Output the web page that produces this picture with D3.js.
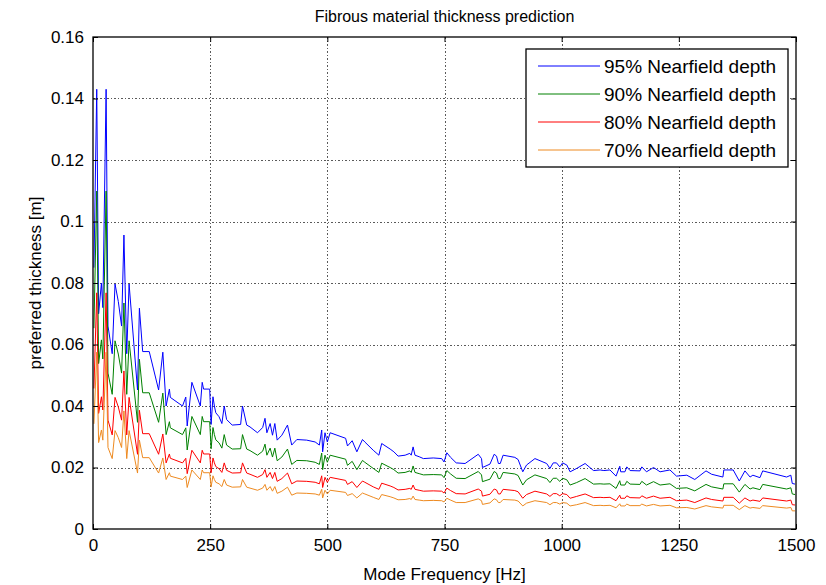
<!DOCTYPE html>
<html>
<head>
<meta charset="utf-8">
<script src="https://cdn.jsdelivr.net/npm/d3@7"></script>
<style>
  body { margin: 0; background: #fff; }
  svg text { font-family: "Liberation Sans", Arial, sans-serif; fill: #000; }
</style>
</head>
<body>
<svg id="chart" width="826" height="585"></svg>
<script>
// Mode frequencies [Hz]
const freq = [2, 8, 12, 18, 21, 28, 32, 41, 47, 54, 61, 66, 72, 77, 95, 99, 106, 120, 140, 149,
  156, 163, 165, 191, 198, 201, 211, 229, 233, 236, 249, 252, 256, 259, 262, 269, 275, 280, 285, 297,
  315, 319, 328, 335, 351, 362, 367, 371, 378, 383, 388, 393, 403, 415, 424, 435, 456, 474, 483, 488,
  490, 495, 500, 506, 539, 543, 553, 563, 575, 580, 598, 610, 616, 634, 642, 651, 666, 676, 679, 683,
  687, 696, 705, 726, 744, 749, 755, 763, 775, 794, 822, 829, 831, 847, 856, 861, 865, 869, 875, 900,
  907, 917, 925, 943, 968, 975, 982, 989, 996, 1002, 1011, 1018, 1032, 1050, 1068, 1082, 1090, 1103, 1116, 1124,
  1126, 1135, 1139, 1146, 1167, 1171, 1181, 1196, 1210, 1231, 1245, 1267, 1284, 1308, 1320, 1344, 1346, 1366, 1379, 1391,
  1402, 1408, 1423, 1429, 1480, 1489, 1492, 1498];

// Preferred thickness [m] for each nearfield depth
const depth95 = [0.0850, 0.1430, 0.0700, 0.0800, 0.0720, 0.1430, 0.0660, 0.0570, 0.0797, 0.0740, 0.0660, 0.0956, 0.0570, 0.0797, 0.0452, 0.0718, 0.0577, 0.0577, 0.0452, 0.0575,
  0.0400, 0.0455, 0.0428, 0.0400, 0.0429, 0.0335, 0.0477, 0.0400, 0.0477, 0.0455, 0.0455, 0.0340, 0.0430, 0.0400, 0.0378, 0.0365, 0.0343, 0.0400, 0.0356, 0.0338,
  0.0340, 0.0400, 0.0338, 0.0332, 0.0313, 0.0330, 0.0360, 0.0313, 0.0343, 0.0305, 0.0343, 0.0289, 0.0305, 0.0338, 0.0273, 0.0291, 0.0289, 0.0283, 0.0273, 0.0322,
  0.0251, 0.0313, 0.0283, 0.0313, 0.0295, 0.0270, 0.0287, 0.0251, 0.0291, 0.0283, 0.0256, 0.0240, 0.0278, 0.0260, 0.0251, 0.0237, 0.0240, 0.0246, 0.0240, 0.0267,
  0.0240, 0.0235, 0.0229, 0.0231, 0.0229, 0.0218, 0.0248, 0.0233, 0.0215, 0.0213, 0.0243, 0.0229, 0.0200, 0.0211, 0.0243, 0.0237, 0.0213, 0.0213, 0.0240, 0.0233,
  0.0226, 0.0186, 0.0208, 0.0229, 0.0213, 0.0197, 0.0215, 0.0215, 0.0202, 0.0215, 0.0208, 0.0186, 0.0197, 0.0213, 0.0190, 0.0192, 0.0190, 0.0192, 0.0172, 0.0204,
  0.0186, 0.0186, 0.0202, 0.0190, 0.0189, 0.0202, 0.0186, 0.0200, 0.0186, 0.0192, 0.0172, 0.0175, 0.0161, 0.0189, 0.0178, 0.0169, 0.0192, 0.0192, 0.0156, 0.0189,
  0.0169, 0.0175, 0.0167, 0.0189, 0.0169, 0.0175, 0.0148, 0.0146];

const depth90 = [0.0653, 0.1099, 0.0538, 0.0615, 0.0553, 0.1099, 0.0507, 0.0438, 0.0612, 0.0569, 0.0507, 0.0735, 0.0438, 0.0612, 0.0347, 0.0552, 0.0443, 0.0443, 0.0347, 0.0442,
  0.0307, 0.0349, 0.0329, 0.0307, 0.0329, 0.0257, 0.0366, 0.0307, 0.0366, 0.0349, 0.0349, 0.0261, 0.0330, 0.0307, 0.0290, 0.0280, 0.0263, 0.0307, 0.0273, 0.0260,
  0.0261, 0.0307, 0.0260, 0.0255, 0.0240, 0.0253, 0.0276, 0.0240, 0.0263, 0.0234, 0.0263, 0.0222, 0.0234, 0.0260, 0.0210, 0.0223, 0.0222, 0.0217, 0.0210, 0.0247,
  0.0193, 0.0240, 0.0217, 0.0240, 0.0227, 0.0207, 0.0220, 0.0193, 0.0223, 0.0217, 0.0197, 0.0184, 0.0214, 0.0200, 0.0193, 0.0182, 0.0184, 0.0189, 0.0184, 0.0205,
  0.0184, 0.0180, 0.0176, 0.0177, 0.0176, 0.0167, 0.0190, 0.0179, 0.0165, 0.0164, 0.0187, 0.0176, 0.0154, 0.0162, 0.0187, 0.0182, 0.0164, 0.0164, 0.0184, 0.0179,
  0.0174, 0.0143, 0.0160, 0.0176, 0.0164, 0.0151, 0.0165, 0.0165, 0.0155, 0.0165, 0.0160, 0.0143, 0.0151, 0.0164, 0.0146, 0.0147, 0.0146, 0.0147, 0.0132, 0.0157,
  0.0143, 0.0143, 0.0155, 0.0146, 0.0145, 0.0155, 0.0143, 0.0154, 0.0143, 0.0147, 0.0132, 0.0134, 0.0124, 0.0145, 0.0137, 0.0130, 0.0147, 0.0147, 0.0120, 0.0145,
  0.0130, 0.0134, 0.0128, 0.0145, 0.0130, 0.0134, 0.0114, 0.0112];

const depth80 = [0.0457, 0.0768, 0.0376, 0.0430, 0.0387, 0.0768, 0.0354, 0.0306, 0.0428, 0.0397, 0.0354, 0.0514, 0.0306, 0.0428, 0.0243, 0.0386, 0.0310, 0.0310, 0.0243, 0.0309,
  0.0215, 0.0244, 0.0230, 0.0215, 0.0230, 0.0180, 0.0256, 0.0215, 0.0256, 0.0244, 0.0244, 0.0183, 0.0231, 0.0215, 0.0203, 0.0196, 0.0184, 0.0215, 0.0191, 0.0182,
  0.0183, 0.0215, 0.0182, 0.0178, 0.0168, 0.0177, 0.0193, 0.0168, 0.0184, 0.0164, 0.0184, 0.0155, 0.0164, 0.0182, 0.0147, 0.0156, 0.0155, 0.0152, 0.0147, 0.0173,
  0.0135, 0.0168, 0.0152, 0.0168, 0.0158, 0.0145, 0.0154, 0.0135, 0.0156, 0.0152, 0.0137, 0.0129, 0.0149, 0.0140, 0.0135, 0.0127, 0.0129, 0.0132, 0.0129, 0.0143,
  0.0129, 0.0126, 0.0123, 0.0124, 0.0123, 0.0117, 0.0133, 0.0125, 0.0115, 0.0114, 0.0130, 0.0123, 0.0107, 0.0113, 0.0130, 0.0127, 0.0114, 0.0114, 0.0129, 0.0125,
  0.0121, 0.0100, 0.0112, 0.0123, 0.0114, 0.0106, 0.0115, 0.0115, 0.0108, 0.0115, 0.0112, 0.0100, 0.0106, 0.0114, 0.0102, 0.0103, 0.0102, 0.0103, 0.0092, 0.0110,
  0.0100, 0.0100, 0.0108, 0.0102, 0.0101, 0.0108, 0.0100, 0.0107, 0.0100, 0.0103, 0.0092, 0.0094, 0.0086, 0.0101, 0.0096, 0.0091, 0.0103, 0.0103, 0.0084, 0.0101,
  0.0091, 0.0094, 0.0090, 0.0101, 0.0091, 0.0094, 0.0079, 0.0078];

const depth70 = [0.0342, 0.0575, 0.0281, 0.0322, 0.0289, 0.0575, 0.0265, 0.0229, 0.0320, 0.0297, 0.0265, 0.0384, 0.0229, 0.0320, 0.0182, 0.0289, 0.0232, 0.0232, 0.0182, 0.0231,
  0.0161, 0.0183, 0.0172, 0.0161, 0.0172, 0.0135, 0.0192, 0.0161, 0.0192, 0.0183, 0.0183, 0.0137, 0.0173, 0.0161, 0.0152, 0.0147, 0.0138, 0.0161, 0.0143, 0.0136,
  0.0137, 0.0161, 0.0136, 0.0133, 0.0126, 0.0133, 0.0145, 0.0126, 0.0138, 0.0123, 0.0138, 0.0116, 0.0123, 0.0136, 0.0110, 0.0117, 0.0116, 0.0114, 0.0110, 0.0129,
  0.0101, 0.0126, 0.0114, 0.0126, 0.0119, 0.0109, 0.0115, 0.0101, 0.0117, 0.0114, 0.0103, 0.0096, 0.0112, 0.0105, 0.0101, 0.0095, 0.0096, 0.0099, 0.0096, 0.0107,
  0.0096, 0.0094, 0.0092, 0.0093, 0.0092, 0.0088, 0.0100, 0.0094, 0.0086, 0.0086, 0.0098, 0.0092, 0.0080, 0.0085, 0.0098, 0.0095, 0.0086, 0.0086, 0.0096, 0.0094,
  0.0091, 0.0075, 0.0084, 0.0092, 0.0086, 0.0079, 0.0086, 0.0086, 0.0081, 0.0086, 0.0084, 0.0075, 0.0079, 0.0086, 0.0076, 0.0077, 0.0076, 0.0077, 0.0069, 0.0082,
  0.0075, 0.0075, 0.0081, 0.0076, 0.0076, 0.0081, 0.0075, 0.0080, 0.0075, 0.0077, 0.0069, 0.0070, 0.0065, 0.0076, 0.0072, 0.0068, 0.0077, 0.0077, 0.0063, 0.0076,
  0.0068, 0.0070, 0.0067, 0.0076, 0.0068, 0.0070, 0.0059, 0.0059];

const seriesNames = ["95% Nearfield depth", "90% Nearfield depth", "80% Nearfield depth", "70% Nearfield depth"];
const seriesColors = ["#0000ff", "#008000", "#ff0000", "#ee8a20"];
const xTicks = [0, 250, 500, 750, 1000, 1250, 1500];
const yTicks = [0, 0.02, 0.04, 0.06, 0.08, 0.1, 0.12, 0.14, 0.16];

const seriesValues = [depth95, depth90, depth80, depth70];

const svg = d3.select("#chart");
const plot = { left: 93, right: 796, top: 37, bottom: 529 };

const x = d3.scaleLinear().domain([0, 1500]).range([plot.left, plot.right]);
const y = d3.scaleLinear().domain([0, 0.16]).range([plot.bottom, plot.top]);

// dotted grid
const grid = svg.append("g").attr("stroke", "#5a5a5a").attr("stroke-width", 1)
  .attr("stroke-dasharray", "1.5,2").attr("shape-rendering", "crispEdges");
grid.selectAll("line.v").data(xTicks.slice(1, -1)).join("line")
  .attr("x1", d => Math.round(x(d)) + 0.5).attr("x2", d => Math.round(x(d)) + 0.5)
  .attr("y1", plot.top).attr("y2", plot.bottom);
grid.selectAll("line.h").data(yTicks.slice(1, -1)).join("line")
  .attr("y1", d => Math.round(y(d)) + 0.5).attr("y2", d => Math.round(y(d)) + 0.5)
  .attr("x1", plot.left).attr("x2", plot.right);

// series
const line = d3.line().x((d, i) => x(freq[i])).y(d => y(d));
svg.append("g").selectAll("path").data(seriesValues).join("path")
  .attr("d", d => line(d))
  .attr("fill", "none")
  .attr("stroke", (d, i) => seriesColors[i])
  .attr("stroke-width", 1)
  .attr("stroke-linejoin", "miter");

// axes with inside ticks on all four sides
const tickLen = 5;
const fmtY = d => d === 0 ? "0" : String(+d.toFixed(2));
const axBottom = d3.axisBottom(x).tickValues(xTicks).tickSizeInner(-tickLen).tickSizeOuter(0).tickPadding(10).tickFormat(d3.format("d"));
const axTop = d3.axisTop(x).tickValues(xTicks).tickSizeInner(-tickLen).tickSizeOuter(0).tickFormat("");
const axLeft = d3.axisLeft(y).tickValues(yTicks).tickSizeInner(-tickLen).tickSizeOuter(0).tickPadding(9).tickFormat(fmtY);
const axRight = d3.axisRight(y).tickValues(yTicks).tickSizeInner(-tickLen).tickSizeOuter(0).tickFormat("");

function styleAxis(g) {
  g.select(".domain").remove();
  g.selectAll(".tick line").attr("stroke", "#000");
  g.selectAll("text").style("font-size", "17px").attr("fill", "#000");
}
svg.append("g").attr("transform", `translate(0,${plot.bottom})`).call(axBottom).call(styleAxis);
svg.append("g").attr("transform", `translate(0,${plot.top})`).call(axTop).call(styleAxis);
svg.append("g").attr("transform", `translate(${plot.left},0)`).call(axLeft).call(styleAxis);
svg.append("g").attr("transform", `translate(${plot.right},0)`).call(axRight).call(styleAxis);

// frame
svg.append("rect")
  .attr("x", plot.left).attr("y", plot.top)
  .attr("width", plot.right - plot.left).attr("height", plot.bottom - plot.top)
  .attr("fill", "none").attr("stroke", "#000").attr("stroke-width", 1.3);

// titles
svg.append("text").attr("x", (plot.left + plot.right) / 2).attr("y", 22)
  .attr("text-anchor", "middle").style("font-size", "16px")
  .text("Fibrous material thickness prediction");
svg.append("text").attr("x", (plot.left + plot.right) / 2).attr("y", 580)
  .attr("text-anchor", "middle").style("font-size", "17px")
  .text("Mode Frequency [Hz]");
svg.append("text")
  .attr("transform", `translate(41,${(plot.top + plot.bottom) / 2}) rotate(-90)`)
  .attr("text-anchor", "middle").style("font-size", "17px")
  .text("preferred thickness [m]");

// legend
const legend = svg.append("g").attr("transform", "translate(526,49)");
legend.append("rect").attr("width", 262).attr("height", 118)
  .attr("fill", "#fff").attr("stroke", "#000").attr("stroke-width", 1.3);
const items = legend.selectAll("g.item").data(seriesNames).join("g")
  .attr("transform", (d, i) => `translate(0,${17 + i * 28})`);
items.append("line").attr("x1", 12).attr("x2", 74).attr("y1", 0).attr("y2", 0)
  .attr("stroke", (d, i) => seriesColors[i]).attr("stroke-width", 1);
items.append("text").attr("x", 78).attr("y", 7).style("font-size", "19px").text(d => d);
</script>
</body>
</html>
